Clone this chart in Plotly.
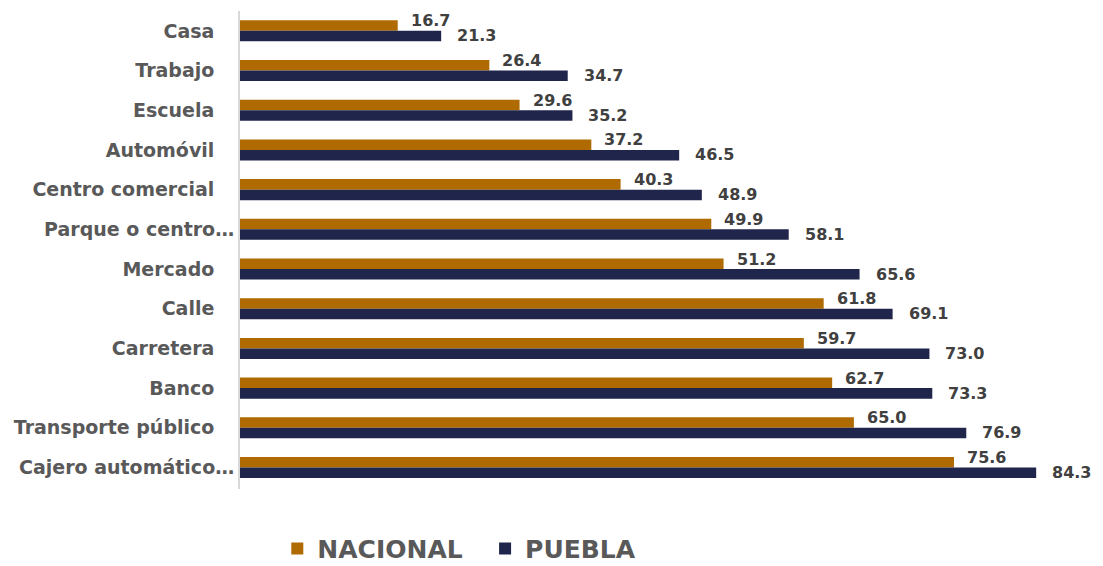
import plotly.graph_objects as go

categories = ["Casa", "Trabajo", "Escuela", "Automóvil", "Centro comercial",
              "Parque o centro recreativo", "Mercado", "Calle", "Carretera", "Banco",
              "Transporte público", "Cajero automático en vía pública"]
tick_labels = ["Casa", "Trabajo", "Escuela", "Automóvil", "Centro comercial",
               "Parque o centro…", "Mercado", "Calle", "Carretera", "Banco",
               "Transporte público", "Cajero automático…"]
nacional = [16.7, 26.4, 29.6, 37.2, 40.3, 49.9, 51.2, 61.8, 59.7, 62.7, 65.0, 75.6]
puebla = [21.3, 34.7, 35.2, 46.5, 48.9, 58.1, 65.6, 69.1, 73.0, 73.3, 76.9, 84.3]

C_NAC = "#B06A02"
C_PUE = "#20264B"
GRAY = "#595959"
FONT = "DejaVu Sans"

ticktext = [t if t.endswith("…") else t + "\u00a0\u00a0\u00a0" for t in tick_labels]

fig = go.Figure()
fig.add_trace(go.Bar(y=categories, x=nacional, orientation="h", name="NACIONAL\u00a0\u00a0",
                     marker=dict(color=C_NAC, line=dict(width=0))))
fig.add_trace(go.Bar(y=categories, x=puebla, orientation="h", name="PUEBLA",
                     marker=dict(color=C_PUE, line=dict(width=0))))

annos = []
for c, v in zip(categories, nacional):
    annos.append(dict(x=v, y=c, text=f"{v:.1f}", showarrow=False, xanchor="left",
                      yanchor="middle", xshift=11, yshift=10,
                      font=dict(family=FONT, size=16, color="#404040", weight="bold")))
for c, v in zip(categories, puebla):
    annos.append(dict(x=v, y=c, text=f"{v:.1f}", showarrow=False, xanchor="left",
                      yanchor="middle", xshift=14, yshift=-5,
                      font=dict(family=FONT, size=16, color="#404040", weight="bold")))

fig.update_layout(
    width=1095, height=558,
    margin=dict(l=232, r=13, t=3, b=77, autoexpand=False),
    paper_bgcolor="white", plot_bgcolor="white",
    barmode="group", bargap=0.47, bargroupgap=0,
    annotations=annos,
    showlegend=True,
    legend=dict(orientation="h", x=0.258, y=-0.125, xanchor="center", yanchor="middle",
                font=dict(family=FONT, size=25, color=GRAY, weight="bold"),
                traceorder="normal"),
    xaxis=dict(range=[0, 90], visible=False, showgrid=False, zeroline=False),
    yaxis=dict(autorange="reversed", tickmode="array", tickvals=categories, ticktext=ticktext,
               showline=True, linecolor="#D9D9D9", linewidth=2, ticks="", automargin=False,
               tickfont=dict(family=FONT, size=19, color=GRAY, weight="bold"),
               showgrid=False),
)

fig.write_html("out.html")
